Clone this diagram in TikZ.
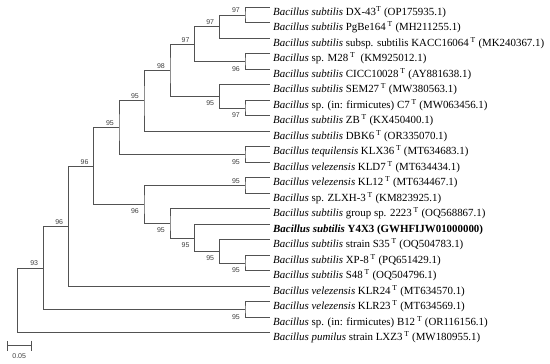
\documentclass[tikz,border=0pt]{standalone}
\usepackage{fontspec}
\setmainfont{Liberation Serif}
\newfontfamily\bootfont{Liberation Sans}
\usepackage{xcolor}
\usepackage{tikz}
\usetikzlibrary{arrows.meta,positioning}

\newcommand{\typ}{\textsuperscript{T}}

\begin{document}
\begin{tikzpicture}[
    x=1pt, y=-1pt,
    taxon/.style={anchor=base west, inner sep=0pt, font=\fontsize{10.9}{12}\selectfont},
    boot/.style={inner sep=0pt, font=\bootfont\fontsize{7}{8}\selectfont, text=black!75},
    branch/.style={draw=black!68, line width=0.7pt},
    scalebar/.style={draw=black!68, line width=0.7pt, {Bar[width=10pt]}-{Bar[width=10pt]}}
]
    \useasboundingbox (0,0) rectangle (550,364);

    % Leaf tips
    \coordinate (l0) at (269.5,7.3);
    \coordinate (l1) at (269.5,22.8);
    \coordinate (l2) at (269.5,38.3);
    \coordinate (l3) at (269.5,53.8);
    \coordinate (l4) at (269.5,69.3);
    \coordinate (l5) at (269.5,84.8);
    \coordinate (l6) at (269.5,100.3);
    \coordinate (l7) at (269.5,115.8);
    \coordinate (l8) at (269.5,131.3);
    \coordinate (l9) at (269.5,146.8);
    \coordinate (l10) at (269.5,162.3);
    \coordinate (l11) at (269.5,177.8);
    \coordinate (l12) at (269.5,193.3);
    \coordinate (l13) at (269.5,208.8);
    \coordinate (l14) at (269.5,224.3);
    \coordinate (l15) at (269.5,239.8);
    \coordinate (l16) at (269.5,255.3);
    \coordinate (l17) at (269.5,270.8);
    \coordinate (l18) at (269.5,286.3);
    \coordinate (l19) at (269.5,301.8);
    \coordinate (l20) at (269.5,317.3);
    \coordinate (l21) at (269.5,332.8);

    % Taxon names
    \node[taxon] (t0) at (273,15.3) {\textit{Bacillus subtilis} DX-43\typ{} (OP175935.1)};
    \node[taxon] (t1) at (273,30.8) {\textit{Bacillus subtilis} PgBe164\,\typ{} (MH211255.1)};
    \node[taxon] (t2) at (273,46.3) {\textit{Bacillus subtilis} subsp. subtilis KACC16064\,\typ{} (MK240367.1)};
    \node[taxon] (t3) at (273,61.8) {\textit{Bacillus} sp. M28\,\typ{}\ \ (KM925012.1)};
    \node[taxon] (t4) at (273,77.3) {\textit{Bacillus subtilis} CICC10028\,\typ{} (AY881638.1)};
    \node[taxon] (t5) at (273,92.8) {\textit{Bacillus subtilis} SEM27\,\typ{} (MW380563.1)};
    \node[taxon] (t6) at (273,108.3) {\textit{Bacillus} sp. (in: firmicutes) C7\,\typ{} (MW063456.1)};
    \node[taxon] (t7) at (273,123.8) {\textit{Bacillus subtilis} ZB\,\typ{} (KX450400.1)};
    \node[taxon] (t8) at (273,139.3) {\textit{Bacillus subtilis} DBK6\,\typ{} (OR335070.1)};
    \node[taxon] (t9) at (273,154.8) {\textit{Bacillus tequilensis} KLX36\,\typ{} (MT634683.1)};
    \node[taxon] (t10) at (273,170.3) {\textit{Bacillus velezensis} KLD7\,\typ{} (MT634434.1)};
    \node[taxon] (t11) at (273,185.8) {\textit{Bacillus velezensis} KL12\,\typ{} (MT634467.1)};
    \node[taxon] (t12) at (273,201.3) {\textit{Bacillus} sp. ZLXH-3\,\typ{} (KM823925.1)};
    \node[taxon] (t13) at (273,216.8) {\textit{Bacillus subtilis} group sp. 2223\,\typ{} (OQ568867.1)};
    \node[taxon] (t14) at (273,232.3) {\textbf{\textit{Bacillus subtilis} Y4X3 (GWHFIJW01000000)}};
    \node[taxon] (t15) at (273,247.8) {\textit{Bacillus subtilis} strain S35\,\typ{} (OQ504783.1)};
    \node[taxon] (t16) at (273,263.3) {\textit{Bacillus subtilis} XP-8\,\typ{} (PQ651429.1)};
    \node[taxon] (t17) at (273,278.8) {\textit{Bacillus subtilis} S48\,\typ{} (OQ504796.1)};
    \node[taxon] (t18) at (273,294.3) {\textit{Bacillus velezensis} KLR24\,\typ{} (MT634570.1)};
    \node[taxon] (t19) at (273,309.8) {\textit{Bacillus velezensis} KLR23\,\typ{} (MT634569.1)};
    \node[taxon] (t20) at (273,325.3) {\textit{Bacillus} sp. (in: firmicutes) B12\,\typ{} (OR116156.1)};
    \node[taxon] (t21) at (273,340.8) {\textit{Bacillus pumilus} strain LXZ3\,\typ{} (MW180955.1)};

    % Internal nodes
    \coordinate (A) at (245,15.05);
    \coordinate (B) at (219.3,26.7);
    \coordinate (C) at (194.7,44.1);
    \coordinate (D) at (245,61.55);
    \coordinate (G) at (245,108.05);
    \coordinate (F) at (219.3,96.4);
    \coordinate (E) at (170,70.3);
    \coordinate (H) at (144,100.8);
    \coordinate (J) at (245,154.55);
    \coordinate (I) at (119,127.7);
    \coordinate (P) at (245,263.05);
    \coordinate (O) at (219.3,251.4);
    \coordinate (N) at (194.7,237.9);
    \coordinate (M) at (170,223.3);
    \coordinate (K) at (245,185.55);
    \coordinate (L) at (144,204.4);
    \coordinate (Q) at (93.7,166.1);
    \coordinate (R) at (68.3,226.2);
    \coordinate (S) at (245,309.55);
    \coordinate (T) at (43.3,267.9);
    \coordinate (U) at (17.3,300.3);

    % Branches
    \draw[branch] (l0) -| (A) |- (l1);
    \draw[branch] (A) -| (B) |- (l2);
    \draw[branch] (l3) -| (D) |- (l4);
    \draw[branch] (B) -| (C) |- (D);
    \draw[branch] (l6) -| (G) |- (l7);
    \draw[branch] (l5) -| (F) |- (G);
    \draw[branch] (C) -| (E) |- (F);
    \draw[branch] (E) -| (H) |- (l8);
    \draw[branch] (l9) -| (J) |- (l10);
    \draw[branch] (H) -| (I) |- (J);
    \draw[branch] (l16) -| (P) |- (l17);
    \draw[branch] (l15) -| (O) |- (P);
    \draw[branch] (l14) -| (N) |- (O);
    \draw[branch] (l13) -| (M) |- (N);
    \draw[branch] (l11) -| (K) |- (l12);
    \draw[branch] (K) -| (L) |- (M);
    \draw[branch] (I) -| (Q) |- (L);
    \draw[branch] (Q) -| (R) |- (l18);
    \draw[branch] (l19) -| (S) |- (l20);
    \draw[branch] (R) -| (T) |- (S);
    \draw[branch] (T) -| (U) |- (l21);

    % Bootstrap values
    \node[boot, above left=1.8pt and 5pt of A] (bA) {97};
    \node[boot, above left=1.8pt and 5pt of B] (bB) {97};
    \node[boot, above left=1.8pt and 5pt of C] (bC) {97};
    \node[boot, below left=4.5pt and 5pt of D] (bD) {96};
    \node[boot, above left=1.8pt and 5pt of E] (bE) {98};
    \node[boot, below left=4.5pt and 5pt of F] (bF) {95};
    \node[boot, below left=4.5pt and 5pt of G] (bG) {97};
    \node[boot, above left=1.8pt and 5pt of H] (bH) {95};
    \node[boot, above left=1.8pt and 5pt of I] (bI) {95};
    \node[boot, below left=4.5pt and 5pt of J] (bJ) {95};
    \node[boot, above left=1.8pt and 5pt of Q] (bQ) {96};
    \node[boot, above left=1.8pt and 5pt of K] (bK) {95};
    \node[boot, below left=4.5pt and 5pt of L] (bL) {96};
    \node[boot, below left=4.5pt and 5pt of M] (bM) {95};
    \node[boot, below left=4.5pt and 5pt of N] (bN) {95};
    \node[boot, below left=4.5pt and 5pt of O] (bO) {95};
    \node[boot, below left=4.5pt and 5pt of P] (bP) {95};
    \node[boot, above left=1.8pt and 5pt of R] (bR) {96};
    \node[boot, below left=4.5pt and 5pt of S] (bS) {95};
    \node[boot, above left=1.8pt and 5pt of T] (bT) {93};

    % Scale bar
    \coordinate (s1) at (6.7,345.5);
    \coordinate (s2) at (31.7,345.5);
    \coordinate (sm) at (19.2,345.5);
    \draw[scalebar] (s1) -- (s2);
    \node[boot, below=7.5pt of sm] (slabel) {0.05};
\end{tikzpicture}
\end{document}
